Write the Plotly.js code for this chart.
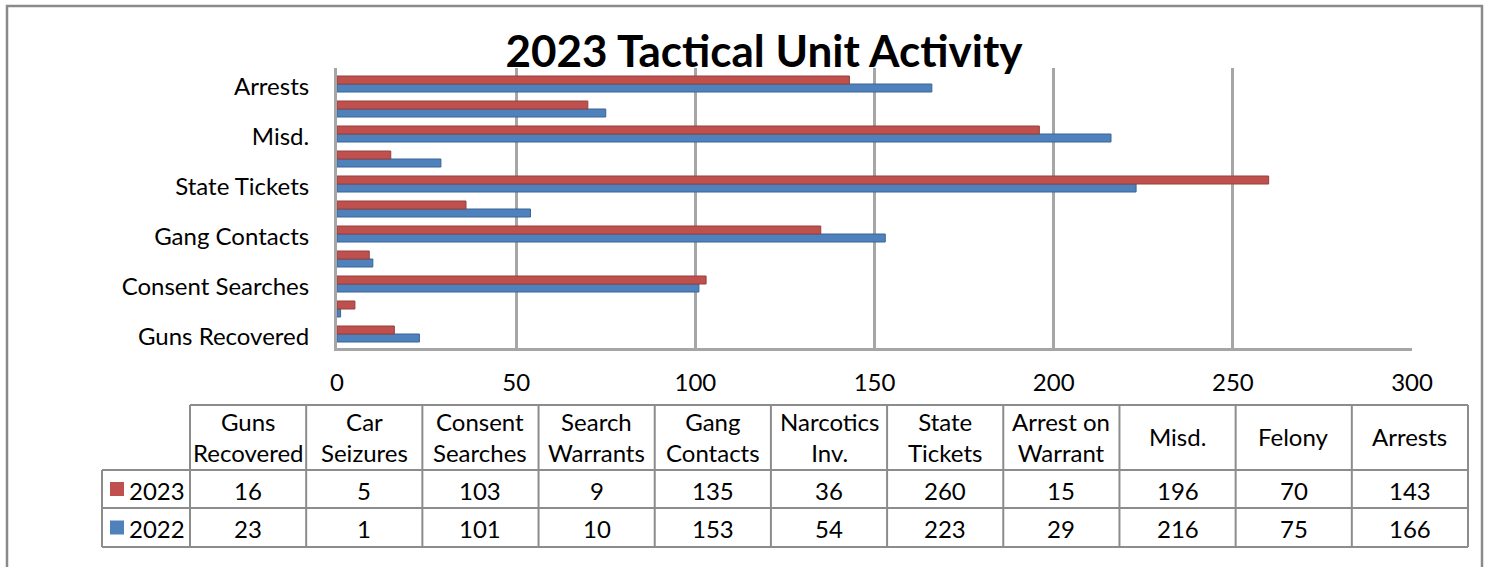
<!DOCTYPE html>
<html>
<head>
<meta charset="utf-8">
<script src="https://cdn.plot.ly/plotly-3.0.1.min.js"></script>
<style>html,body{margin:0;padding:0;background:#fff;}#chart{width:1485px;height:567px;}</style>
</head>
<body>
<div id="chart"></div>
<script>
// ---- data ----
var categories = ["Guns Recovered", "Car Seizures", "Consent Searches", "Search Warrants", "Gang Contacts", "Narcotics Inv.", "State Tickets", "Arrest on Warrant", "Misd.", "Felony", "Arrests"];
var headerLabels = ["Guns<br>Recovered", "Car<br>Seizures", "Consent<br>Searches", "Search<br>Warrants", "Gang<br>Contacts", "Narcotics<br>Inv.", "State<br>Tickets", "Arrest on<br>Warrant", "Misd.", "Felony", "Arrests"];
var values2023 = [16, 5, 103, 9, 135, 36, 260, 15, 196, 70, 143];
var values2022 = [23, 1, 101, 10, 153, 54, 223, 29, 216, 75, 166];
var seriesNames = ["2023", "2022"];
var shownYTicks = ["Guns Recovered", "Consent Searches", "Gang Contacts", "State Tickets", "Misd.", "Arrests"];
var xTicks = [0, 50, 100, 150, 200, 250, 300];

// ---- layout helpers ----
var W = 1485, H = 567;
function px(x) { return x / W; }
function py(y) { return 1 - y / H; }
var RED = "#c0504d", BLUE = "#4f81bd";
var FONT = "Lato, 'Open Sans', sans-serif";
var GRID = "#8c8c8c";

var traceBlue = {
  type: "bar", orientation: "h", name: seriesNames[1],
  y: categories, x: values2022,
  marker: { color: BLUE, line: { color: "#3a6595", width: 1 } },
  showlegend: false
};
var traceRed = {
  type: "bar", orientation: "h", name: seriesNames[0],
  y: categories, x: values2023,
  marker: { color: RED, line: { color: "#94403d", width: 1 } },
  showlegend: false
};

// ---- data table (below the chart) ----
var tblLeft = 102, labelColRight = 190, tblRight = 1468;
var colWidth = (tblRight - labelColRight) / categories.length;
var yHeadTop = 405, yHeadBot = 470, yRow1Bot = 508, yRow2Bot = 547;

var shapes = [{
  type: "rect", xref: "paper", yref: "paper",
  x0: px(7), x1: px(1482), y0: -0.05, y1: py(6),
  line: { color: "#8a8a8a", width: 2.5 }, fillcolor: "rgba(0,0,0,0)", layer: "below"
}];
function hline(y, x0, x1) {
  shapes.push({ type: "line", xref: "paper", yref: "paper", x0: px(x0), x1: px(x1), y0: py(y), y1: py(y), line: { color: GRID, width: 2 } });
}
function vline(x, y0, y1) {
  shapes.push({ type: "line", xref: "paper", yref: "paper", x0: px(x), x1: px(x), y0: py(y0), y1: py(y1), line: { color: GRID, width: 2 } });
}
hline(yHeadTop, labelColRight, tblRight);
hline(yHeadBot, tblLeft, tblRight);
hline(yRow1Bot, tblLeft, tblRight);
hline(yRow2Bot, tblLeft, tblRight);
vline(tblLeft, yHeadBot, yRow2Bot);
for (var c = 0; c <= categories.length; c++) {
  vline(labelColRight + c * colWidth, yHeadTop, yRow2Bot);
}

var annotations = [];
function cellText(text, xc, yc, size, xanchor) {
  annotations.push({
    xref: "paper", yref: "paper", x: px(xc), y: py(yc),
    xanchor: xanchor || "center", yanchor: "middle", align: "center",
    text: text, showarrow: false,
    font: { family: FONT, size: size, color: "#000" }
  });
}
var rowCenters = [(yHeadBot + yRow1Bot) / 2, (yRow1Bot + yRow2Bot) / 2];
var rowValues = [values2023, values2022];
var rowColors = [RED, BLUE];
for (var i = 0; i < categories.length; i++) {
  var xc = labelColRight + (i + 0.5) * colWidth;
  cellText(headerLabels[i], xc, (yHeadTop + yHeadBot) / 2 - 1, 24);
  for (var r = 0; r < 2; r++) {
    cellText(String(rowValues[r][i]), xc, rowCenters[r] + 1, 24);
  }
}
for (var r2 = 0; r2 < 2; r2++) {
  // legend key square
  shapes.push({
    type: "rect", xref: "paper", yref: "paper",
    x0: px(110), x1: px(124), y0: py(rowCenters[r2] + 7), y1: py(rowCenters[r2] - 7),
    fillcolor: rowColors[r2], line: { width: 0 }
  });
  cellText(seriesNames[r2], 127, rowCenters[r2] + 1, 24, "left");
}

var layout = {
  width: W, height: H,
  margin: { l: 0, r: 0, t: 0, b: 0 },
  paper_bgcolor: "#fff", plot_bgcolor: "#fff",
  barmode: "group", bargap: 0.36, bargroupgap: 0,
  title: {
    text: "<b>2023 Tactical Unit Activity</b>",
    font: { family: FONT, size: 44, color: "#000" },
    x: px(764), xanchor: "center", y: py(52), yanchor: "middle"
  },
  xaxis: {
    domain: [px(337), px(1412)],
    range: [0, 300], tickvals: xTicks,
    showgrid: true, gridcolor: "#a6a6a6", gridwidth: 3,
    zeroline: false,
    showline: true, linecolor: "#a6a6a6", linewidth: 3,
    ticks: "outside", ticklen: 11, tickcolor: "rgba(0,0,0,0)",
    tickfont: { family: FONT, size: 24, color: "#000" },
    fixedrange: true
  },
  yaxis: {
    domain: [py(348), py(68)],
    type: "category", range: [-0.56, 10.64],
    tickvals: shownYTicks,
    showgrid: false, zeroline: false,
    showline: true, linecolor: "#a6a6a6", linewidth: 3,
    ticks: "outside", ticklen: 20, tickcolor: "rgba(0,0,0,0)",
    ticklabelshift: 3,
    tickfont: { family: FONT, size: 24, color: "#000" },
    fixedrange: true
  },
  shapes: shapes,
  annotations: annotations
};

Plotly.newPlot("chart", [traceBlue, traceRed], layout, { displayModeBar: false, staticPlot: true });
</script>
</body>
</html>
